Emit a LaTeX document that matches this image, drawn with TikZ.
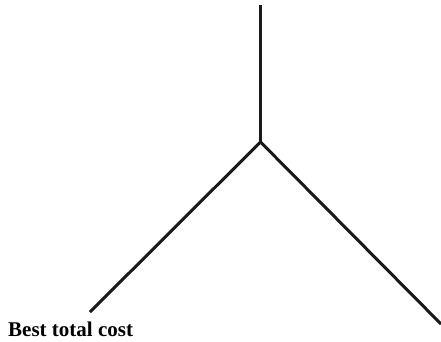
\documentclass[tikz,border=0pt]{standalone}
\usepackage{fontspec}
\setmainfont{Liberation Serif}
\usepackage{tikz}
\usetikzlibrary{positioning}

\begin{document}
\begin{tikzpicture}[x=1pt, y=1pt, branch/.style={line width=3pt, color=black!90}]
        \useasboundingbox (0,0) rectangle (441,341);
        \coordinate (top)   at (260.5,336);
        \coordinate (fork)  at (260.5,199);
        \coordinate (left)  at (90,29);
        \coordinate (right) at (441,17);
        \node[anchor=base west, inner sep=0pt, font=\fontsize{21}{24}\selectfont\bfseries] (cost) at (8,5) {Best total cost};
        
        \draw[branch] (top) -- (fork);
        \draw[branch] (fork) -- (left);
        \draw[branch] (fork) -- (right);
        
    \end{tikzpicture}
\end{document}
